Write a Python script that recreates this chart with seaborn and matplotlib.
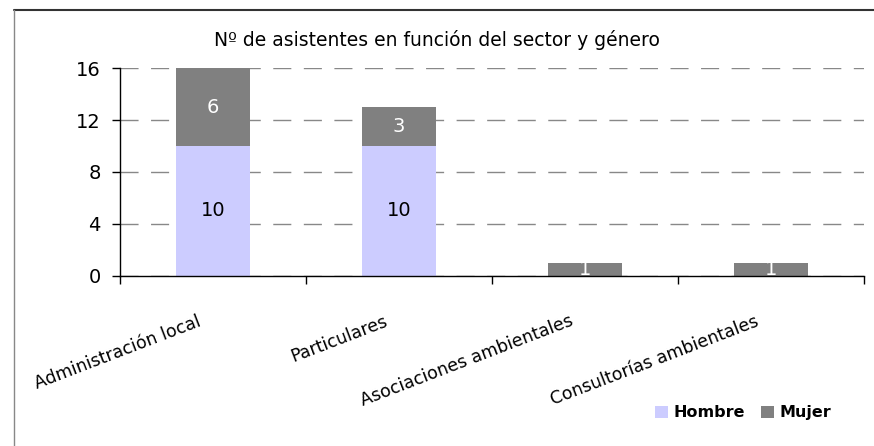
import matplotlib
matplotlib.use('Agg')
import matplotlib.pyplot as plt
import seaborn as sns
import pandas as pd
from matplotlib.patches import Patch
from matplotlib.lines import Line2D

sectores = ['Administración local', 'Particulares',
            'Asociaciones ambientales', 'Consultorías ambientales']
hombre = [10, 10, 0, 0]
mujer = [6, 3, 1, 1]
COL_H = '#CCCCFF'
COL_M = '#808080'

sns.set_theme(style='white')
plt.rcParams['font.family'] = ['DejaVu Sans']
plt.rcParams['text.color'] = 'black'
plt.rcParams['xtick.color'] = 'black'
plt.rcParams['ytick.color'] = 'black'

df = pd.DataFrame({'sector': sectores, 'Hombre': hombre, 'Mujer': mujer})
df['total'] = df['Hombre'] + df['Mujer']

fig = plt.figure(figsize=(8.74, 4.46), dpi=100)
ax = fig.add_axes([0.1373, 0.3812, 0.8513, 0.4663])

sns.barplot(data=df, x='sector', y='total', color=COL_M, width=0.4,
            saturation=1, linewidth=0, edgecolor='none', ax=ax)
sns.barplot(data=df, x='sector', y='Hombre', color=COL_H, width=0.4,
            saturation=1, linewidth=0, edgecolor='none', ax=ax)

# value labels
for i, row in df.iterrows():
    if row['Hombre'] > 0:
        ax.text(i, row['Hombre'] / 2, str(row['Hombre']), ha='center',
                va='center', fontsize=14, color='black')
    if row['Mujer'] > 0:
        ax.text(i, row['Hombre'] + row['Mujer'] / 2, str(row['Mujer']),
                ha='center', va='center', fontsize=14, color='white')

ax.set_xlim(-0.5, len(sectores) - 0.5)
ax.set_ylim(0, 16)
ax.set_yticks([0, 4, 8, 12, 16])
ax.yaxis.grid(True, color='#888888', linestyle=(0, (13, 9)), linewidth=1)
ax.set_axisbelow(True)
ax.set_xlabel('')
ax.set_ylabel('')

for s in ['top', 'right']:
    ax.spines[s].set_visible(False)
for s in ['left', 'bottom']:
    ax.spines[s].set_color('black')
    ax.spines[s].set_linewidth(1)
    ax.spines[s].set_zorder(5)

ax.tick_params(axis='y', left=True, length=6, width=1, color='black',
               labelsize=14, pad=8)
# category ticks at boundaries, labels near centers
ax.set_xticks([x - 0.5 for x in range(len(sectores) + 1)])
ax.set_xticklabels([])
ax.tick_params(axis='x', bottom=True, length=6, width=1, color='black')
ax.set_xticks([x - 0.085 for x in range(len(sectores))], minor=True)
ax.set_xticklabels(sectores, minor=True, rotation=21, ha='right',
                   rotation_mode='anchor', fontsize=12.5)
ax.tick_params(axis='x', which='minor', bottom=False, pad=22)

fig.text(0.5, 0.91, 'Nº de asistentes en función del sector y género',
         ha='center', va='center', fontsize=13.5, color='black')

handles = [Patch(facecolor=COL_H, edgecolor='none', label='Hombre'),
           Patch(facecolor=COL_M, edgecolor='none', label='Mujer')]
fig.legend(handles=handles, loc='center', bbox_to_anchor=(0.850, 0.074),
           ncol=2, frameon=False, handlelength=0.85, handleheight=0.85,
           handletextpad=0.3, columnspacing=1.0,
           prop={'size': 11.5, 'weight': 'bold'})

# chart frame lines (top and left)
fig.add_artist(Line2D([0.016, 1.0], [0.977, 0.977], color='#333333',
                      linewidth=1.5, transform=fig.transFigure))
fig.add_artist(Line2D([0.016, 0.016], [0.0, 0.977], color='#888888',
                      linewidth=1.0, transform=fig.transFigure))

fig.savefig('out.png', dpi=100)
